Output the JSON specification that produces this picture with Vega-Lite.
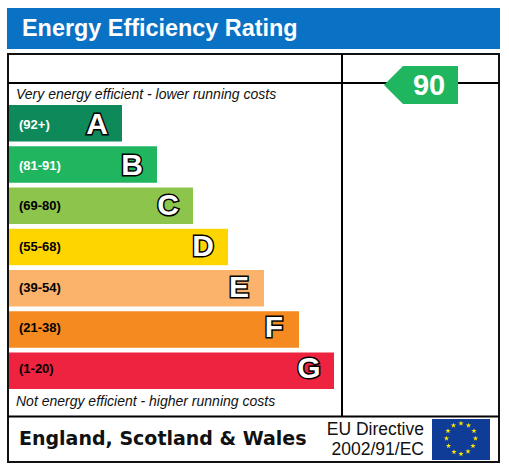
{"$schema":"https://vega.github.io/schema/vega-lite/v6.json","width":509,"height":467,"padding":0,"autosize":{"type":"fit","contains":"padding"},"background":"white","view":{"stroke":null},
"datasets":{"bands":[{"band":"A","range":"(92+)","length":122},{"band":"B","range":"(81-91)","length":157},{"band":"C","range":"(69-80)","length":193},{"band":"D","range":"(55-68)","length":228},{"band":"E","range":"(39-54)","length":264},{"band":"F","range":"(21-38)","length":299},{"band":"G","range":"(1-20)","length":334}],
"stars":[{"x":461,"y":423.5},{"x":453.5,"y":425.5},{"x":468.5,"y":425.5},{"x":448,"y":431},{"x":474,"y":431},{"x":446.5,"y":438.5},{"x":475.5,"y":438.5},{"x":448.5,"y":446},{"x":473,"y":446},{"x":454,"y":452},{"x":468,"y":451.5},{"x":461,"y":454}]},
"layer":[
{"data":{"values":[{"x":7,"x2":500,"y":8,"y2":49}]},"mark":{"type":"rect","color":"#0a72c4"},"encoding":{"x":{"field":"x","type":"quantitative","axis":null,"scale":{"domain":[0,509],"range":[0,509],"nice":false,"zero":false}},"x2":{"field":"x2"},"y":{"field":"y","type":"quantitative","axis":null,"scale":{"domain":[0,467],"reverse":true,"nice":false,"zero":false}},"y2":{"field":"y2"}}},
{"data":{"values":[{"x":8,"x2":499,"y":54,"y2":462}]},"mark":{"type":"rect","fill":"white","stroke":"#111111","strokeWidth":2},"encoding":{"x":{"field":"x","type":"quantitative","axis":null},"x2":{"field":"x2"},"y":{"field":"y","type":"quantitative","axis":null,"scale":{"domain":[0,467],"reverse":true,"nice":false,"zero":false}},"y2":{"field":"y2"}}},
{"data":{"values":[{"x":8,"x2":499,"y":83,"y2":83},{"x":8,"x2":499,"y":416.5,"y2":416.5},{"x":342,"x2":342,"y":54,"y2":416.5}]},"mark":{"type":"rule","color":"black","strokeWidth":2},"encoding":{"x":{"field":"x","type":"quantitative","axis":null},"x2":{"field":"x2"},"y":{"field":"y","type":"quantitative","axis":null,"scale":{"domain":[0,467],"reverse":true,"nice":false,"zero":false}},"y2":{"field":"y2"}}},
{"data":{"name":"bands"},"mark":{"type":"bar"},"encoding":{"x":{"field":"length","type":"quantitative","axis":null,"stack":null},"x2":{"datum":9},"y":{"field":"band","type":"nominal","axis":null,"scale":{"domain":["A","B","C","D","E","F","G"],"range":[105,389],"paddingInner":0.115,"paddingOuter":0}},"color":{"field":"band","type":"nominal","legend":null,"scale":{"domain":["A","B","C","D","E","F","G"],"range":["#0e8a5a","#1fb65f","#8dc44c","#ffd500","#fbb26a","#f58a20","#ee2340"]}}}},
{"data":{"name":"bands"},"transform":[{"filter":"datum.band==='A'||datum.band==='B'"}],"mark":{"type":"text","align":"left","baseline":"middle","font":"Liberation Sans","fontWeight":"bold","fontSize":13,"color":"white"},"encoding":{"x":{"value":19},"y":{"field":"band","type":"nominal","axis":null,"scale":{"domain":["A","B","C","D","E","F","G"],"range":[105,389],"paddingInner":0.115,"paddingOuter":0}},"text":{"field":"range"}}},
{"data":{"name":"bands"},"transform":[{"filter":"datum.band!=='A'&&datum.band!=='B'"}],"mark":{"type":"text","align":"left","baseline":"middle","font":"Liberation Sans","fontWeight":"bold","fontSize":13,"color":"black"},"encoding":{"x":{"value":19},"y":{"field":"band","type":"nominal","axis":null,"scale":{"domain":["A","B","C","D","E","F","G"],"range":[105,389],"paddingInner":0.115,"paddingOuter":0}},"text":{"field":"range"}}},
{"data":{"name":"bands"},"mark":{"type":"text","align":"center","baseline":"middle","dx":-25,"dy":0,"font":"Liberation Sans","fontWeight":"bold","fontSize":30,"color":"black","stroke":"black","strokeWidth":3},"encoding":{"x":{"field":"length","type":"quantitative","axis":null},"y":{"field":"band","type":"nominal","axis":null,"scale":{"domain":["A","B","C","D","E","F","G"],"range":[105,389],"paddingInner":0.115,"paddingOuter":0}},"text":{"field":"band"}}},
{"data":{"name":"bands"},"mark":{"type":"text","align":"center","baseline":"middle","dx":-25,"dy":0,"font":"Liberation Sans","fontWeight":"bold","fontSize":30,"color":"white"},"encoding":{"x":{"field":"length","type":"quantitative","axis":null},"y":{"field":"band","type":"nominal","axis":null,"scale":{"domain":["A","B","C","D","E","F","G"],"range":[105,389],"paddingInner":0.115,"paddingOuter":0}},"text":{"field":"band"}}},
{"data":{"values":[{"x":384,"y":85,"y2":85},{"x":403,"y":66,"y2":104},{"x":458,"y":66,"y2":104}]},"mark":{"type":"area","color":"#1fb65f","opacity":1},"encoding":{"x":{"field":"x","type":"quantitative","axis":null},"y":{"field":"y","type":"quantitative","axis":null,"scale":{"domain":[0,467],"reverse":true,"nice":false,"zero":false}},"y2":{"field":"y2"}}},
{"data":{"values":[{"label":"90","x":429,"y":95}]},"mark":{"type":"text","align":"center","baseline":"alphabetic","font":"Liberation Sans","fontWeight":"bold","fontSize":29,"color":"white"},"encoding":{"x":{"field":"x","type":"quantitative","axis":null},"y":{"field":"y","type":"quantitative","axis":null,"scale":{"domain":[0,467],"reverse":true,"nice":false,"zero":false}},"text":{"field":"label"}}},
{"data":{"values":[{"label":"Energy Efficiency Rating","x":22,"y":36}]},"mark":{"type":"text","align":"left","baseline":"alphabetic","font":"Liberation Sans","fontWeight":"bold","fontSize":23.4,"color":"white"},"encoding":{"x":{"field":"x","type":"quantitative","axis":null},"y":{"field":"y","type":"quantitative","axis":null,"scale":{"domain":[0,467],"reverse":true,"nice":false,"zero":false}},"text":{"field":"label"}}},
{"data":{"values":[{"label":"Very energy efficient - lower running costs","x":16,"y":99},{"label":"Not energy efficient - higher running costs","x":16,"y":406}]},"mark":{"type":"text","align":"left","baseline":"alphabetic","font":"Liberation Sans","fontStyle":"italic","fontSize":14,"color":"#111111"},"encoding":{"x":{"field":"x","type":"quantitative","axis":null},"y":{"field":"y","type":"quantitative","axis":null,"scale":{"domain":[0,467],"reverse":true,"nice":false,"zero":false}},"text":{"field":"label"}}},
{"data":{"values":[{"label":"England, Scotland & Wales","x":19,"y":444.5}]},"mark":{"type":"text","align":"left","baseline":"alphabetic","font":"DejaVu Sans","fontWeight":"bold","fontSize":19,"color":"#111111"},"encoding":{"x":{"field":"x","type":"quantitative","axis":null},"y":{"field":"y","type":"quantitative","axis":null,"scale":{"domain":[0,467],"reverse":true,"nice":false,"zero":false}},"text":{"field":"label"}}},
{"data":{"values":[{"label":"EU Directive","x":424,"y":435},{"label":"2002/91/EC","x":424,"y":455}]},"mark":{"type":"text","align":"right","baseline":"alphabetic","font":"Liberation Sans","fontSize":17.5,"color":"#111111"},"encoding":{"x":{"field":"x","type":"quantitative","axis":null},"y":{"field":"y","type":"quantitative","axis":null,"scale":{"domain":[0,467],"reverse":true,"nice":false,"zero":false}},"text":{"field":"label"}}},
{"data":{"values":[{"x":432,"x2":490,"y":419,"y2":460}]},"mark":{"type":"rect","color":"#0f3c96"},"encoding":{"x":{"field":"x","type":"quantitative","axis":null},"x2":{"field":"x2"},"y":{"field":"y","type":"quantitative","axis":null,"scale":{"domain":[0,467],"reverse":true,"nice":false,"zero":false}},"y2":{"field":"y2"}}},
{"data":{"name":"stars"},"mark":{"type":"point","shape":"M0,-1L0.225,-0.31L0.95,-0.31L0.36,0.12L0.59,0.81L0,0.38L-0.59,0.81L-0.36,0.12L-0.95,-0.31L-0.225,-0.31Z","filled":true,"color":"#ffe600","size":32,"opacity":1},"encoding":{"x":{"field":"x","type":"quantitative","axis":null},"y":{"field":"y","type":"quantitative","axis":null,"scale":{"domain":[0,467],"reverse":true,"nice":false,"zero":false}}}}
],
"resolve":{"scale":{"y":"independent"}}}
